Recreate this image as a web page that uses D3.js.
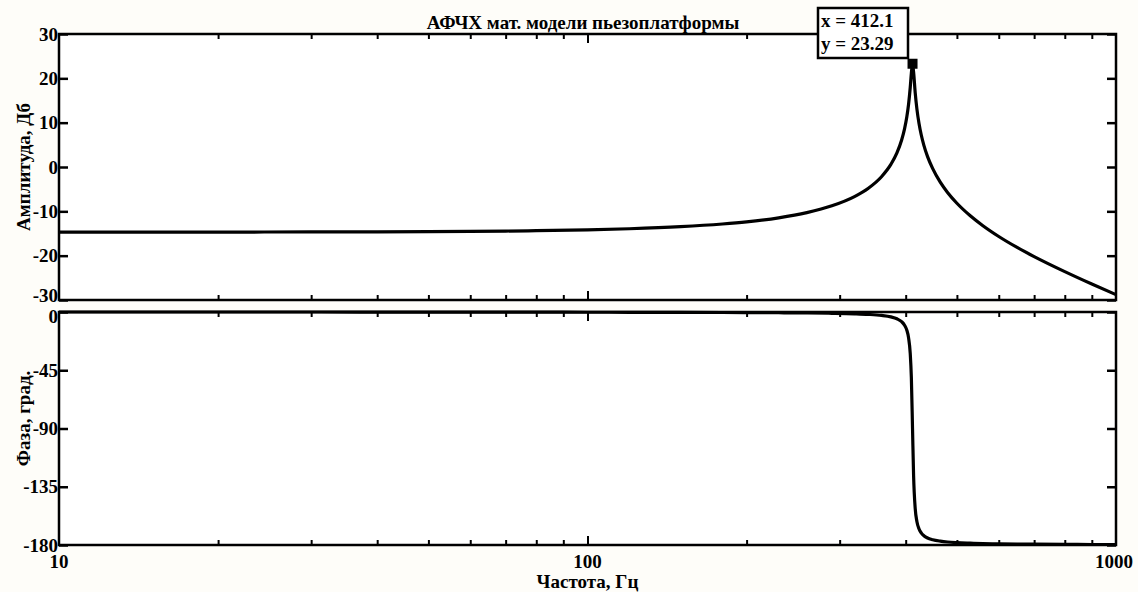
<!DOCTYPE html>
<html>
<head>
<meta charset="utf-8">
<script src="https://cdn.jsdelivr.net/npm/d3@7"></script>
<style>
  body { margin: 0; background: #fefdf9; }
  svg text { font-family: "Liberation Serif", "DejaVu Serif", serif; font-weight: bold; fill: #000; }
</style>
</head>
<body>
<div id="chart"></div>
<script>
// frequency points, Hz
const freq = [10, 15, 20, 30, 40, 50, 60, 70, 80, 100, 120, 150, 180, 200, 230, 260, 290, 320, 340, 360,
  375, 385, 393, 398, 402, 405, 408, 410, 412.1, 414, 417, 420, 424, 428, 433, 440, 450, 465, 480, 500,
  530, 560, 600, 650, 700, 800, 900, 1000];

// amplitude, dB
const ampDb = [-14.7, -14.7, -14.68, -14.65, -14.62, -14.57, -14.51, -14.45, -14.37, -14.17, -13.93, -13.47, -12.86, -12.37, -11.46, -10.29, -8.76, -6.68, -4.79, -2.19,
  0.58, 3.17, 6.09, 8.61, 11.33, 14.1, 17.93, 21.18, 23.29, 21.44, 16.65, 13.1, 9.74, 7.27, 4.89, 2.35, -0.38, -3.43, -5.75, -8.18,
  -11.01, -13.25, -15.68, -18.15, -20.21, -23.6, -26.4, -28.8];

// phase, degrees
const phaseDeg = [0, 0, 0, 0, -0.05, -0.07, -0.09, -0.11, -0.13, -0.18, -0.23, -0.3, -0.39, -0.45, -0.58, -0.74, -1.0, -1.4, -1.85, -2.64,
  -3.78, -5.25, -7.5, -10.2, -14.1, -19.8, -32.0, -50.7, -90, -126.3, -152.1, -161.8, -167.6, -170.6, -172.8, -174.6, -175.9, -177.0, -177.7, -178.2,
  -178.6, -178.9, -179.1, -179.3, -179.4, -179.5, -179.6, -179.6];

const ampTicks = [-30, -20, -10, 0, 10, 20, 30];
const phaseTicks = [-180, -135, -90, -45, 0];
const freqMajor = [10, 100, 1000];
const freqMinor = [20, 30, 40, 50, 60, 70, 80, 90, 200, 300, 400, 500, 600, 700, 800, 900];

const peakFreq = 412.1;
const peakAmp = 23.29;

const width = 1138, height = 592;
const left = 59, right = 1116;
const ampTop = 34, ampBottom = 300;
const phTop = 312, phBottom = 545;
const serif = '"Liberation Serif", "DejaVu Serif", serif';

const svg = d3.select("#chart").append("svg")
  .attr("width", width)
  .attr("height", height);

const x = d3.scaleLog().domain([10, 1000]).range([left, right]);
const yAmp = d3.scaleLinear().domain([-30, 30]).range([ampBottom, ampTop]);
const yPh = d3.scaleLinear().domain([-180, 0]).range([phBottom, phTop]);

// draw one panel with background + inward ticks
function panel(y, top, bottom, ticks) {
  const g = svg.append("g");

  g.append("rect")
    .attr("x", left).attr("y", top)
    .attr("width", right - left).attr("height", bottom - top)
    .attr("fill", "#fff");

  // left axis with labels
  g.append("g")
    .attr("transform", `translate(${left},0)`)
    .call(d3.axisLeft(y).tickValues(ticks).tickSize(-9).tickPadding(1).tickFormat(d => String(d)))
    .call(a => a.select(".domain").remove())
    .call(a => a.selectAll("line").attr("stroke-width", 2.5))
    .call(a => a.selectAll("text")
      .style("font-family", serif)
      .style("font-weight", "bold")
      .style("font-size", "19px"));

  // right axis, ticks only
  g.append("g")
    .attr("transform", `translate(${right},0)`)
    .call(d3.axisRight(y).tickValues(ticks).tickSize(-9).tickFormat(""))
    .call(a => a.select(".domain").remove())
    .call(a => a.selectAll("line").attr("stroke-width", 2.5));

  // top and bottom freq ticks
  [[top, d3.axisTop], [bottom, d3.axisBottom]].forEach(([yy, ax]) => {
    g.append("g")
      .attr("transform", `translate(0,${yy})`)
      .call(ax(x).tickValues(freqMinor).tickSize(-5).tickFormat(""))
      .call(a => a.select(".domain").remove())
      .call(a => a.selectAll("line").attr("stroke-width", 2));
    g.append("g")
      .attr("transform", `translate(0,${yy})`)
      .call(ax(x).tickValues([100]).tickSize(-9).tickFormat(""))
      .call(a => a.select(".domain").remove())
      .call(a => a.selectAll("line").attr("stroke-width", 2));
  });

  return g;
}

const gAmp = panel(yAmp, ampTop, ampBottom, ampTicks);
const gPh = panel(yPh, phTop, phBottom, phaseTicks);

// nudge the two labels that meet between panels
gAmp.selectAll(".tick text").filter(d => d === -30).attr("dy", "0.1em");
gPh.selectAll(".tick text").filter(d => d === 0).attr("dy", "0.55em");

// curves
const ampLine = d3.line()
  .x((d, i) => x(freq[i]))
  .y(d => yAmp(d))
  .curve(d3.curveMonotoneX);

const phLine = d3.line()
  .x((d, i) => x(freq[i]))
  .y(d => yPh(d))
  .curve(d3.curveMonotoneX);

gAmp.append("path")
  .datum(ampDb)
  .attr("fill", "none")
  .attr("stroke", "#000")
  .attr("stroke-width", 3.2)
  .attr("stroke-linejoin", "round")
  .attr("d", ampLine);

gPh.append("path")
  .datum(phaseDeg)
  .attr("fill", "none")
  .attr("stroke", "#000")
  .attr("stroke-width", 3.2)
  .attr("stroke-linejoin", "round")
  .attr("d", phLine);

// frames
[[ampTop, ampBottom], [phTop, phBottom]].forEach(([t, b]) => {
  svg.append("rect")
    .attr("x", left).attr("y", t)
    .attr("width", right - left).attr("height", b - t)
    .attr("fill", "none")
    .attr("stroke", "#000")
    .attr("stroke-width", 2.5);
});

// x tick labels under lower panel
svg.append("g")
  .selectAll("text")
  .data(freqMajor)
  .join("text")
  .attr("x", d => d === 1000 ? x(d) - 2 : x(d))
  .attr("y", phBottom + 23)
  .attr("text-anchor", "middle")
  .style("font-size", "19px")
  .text(d => d);

// title
svg.append("text")
  .attr("x", 583)
  .attr("y", 29)
  .attr("text-anchor", "middle")
  .style("font-size", "19px")
  .text("АФЧХ мат. модели пьезоплатформы");

// axis titles
svg.append("text")
  .attr("x", (left + right) / 2)
  .attr("y", 588)
  .attr("text-anchor", "middle")
  .style("font-size", "19px")
  .text("Частота, Гц");

svg.append("text")
  .attr("transform", `translate(30,${(ampTop + ampBottom) / 2}) rotate(-90)`)
  .attr("text-anchor", "middle")
  .style("font-size", "19px")
  .text("Амплитуда, Дб");

svg.append("text")
  .attr("transform", `translate(30,${(phTop + phBottom) / 2 - 10}) rotate(-90)`)
  .attr("text-anchor", "middle")
  .style("font-size", "19px")
  .text("Фаза, град.");

// data tip
svg.append("rect")
  .attr("x", x(peakFreq) - 5).attr("y", yAmp(peakAmp) - 5)
  .attr("width", 10).attr("height", 10)
  .attr("fill", "#000");

const tip = svg.append("g").attr("transform", "translate(818,8)");
tip.append("rect")
  .attr("width", 90).attr("height", 50)
  .attr("fill", "#fff")
  .attr("stroke", "#000")
  .attr("stroke-width", 2.5);
tip.append("text")
  .attr("x", 3).attr("y", 19)
  .style("font-size", "19px")
  .text("x = " + peakFreq);
tip.append("text")
  .attr("x", 3).attr("y", 42)
  .style("font-size", "19px")
  .text("y = " + peakAmp);
</script>
</body>
</html>
